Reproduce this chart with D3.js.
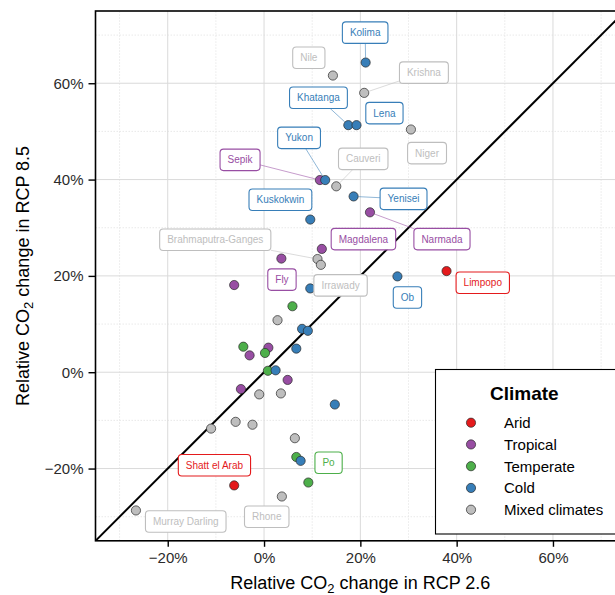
<!DOCTYPE html>
<html><head><meta charset="utf-8">
<script src="https://cdn.jsdelivr.net/npm/d3@7"></script>
<style>body{margin:0;background:#fff}svg{display:block}text{font-family:"Liberation Sans",Arial,Helvetica,sans-serif}</style>
</head><body><svg id="c" width="615" height="595"></svg>
<script>
// ---- data ----
const rivers = ["Limpopo","Shatt el Arab",
  "Sepik","Narmada","Magdalena","Fly","","","","","",
  "","","","","","Po",
  "Kolima","Khatanga","Lena","Yukon","Yenisei","Kuskokwin","","Ob","","","","","","",
  "Nile","Krishna","Niger","Cauveri","Brahmaputra-Ganges","Irrawady","","","","","","","","Rhone","Murray Darling"];
const rcp26 = [0.379,-0.062,
  0.116,0.220,0.120,0.036,-0.062,0.009,-0.030,0.049,-0.048,
  0.059,-0.043,0.002,0.008,0.067,0.092,
  0.211,0.175,0.192,0.127,0.186,0.096,0.096,0.277,0.079,0.091,0.067,0.024,0.147,0.076,
  0.143,0.208,0.305,0.150,0.111,0.118,0.028,-0.010,0.035,-0.059,-0.024,-0.110,0.064,0.037,-0.266];
const rcp85 = [0.210,-0.235,
  0.399,0.332,0.256,0.236,0.181,0.051,0.035,-0.016,-0.035,
  0.137,0.053,0.040,0.003,-0.176,-0.229,
  0.643,0.513,0.513,0.399,0.365,0.317,0.174,0.199,0.090,0.086,0.049,0.004,-0.067,-0.184,
  0.616,0.580,0.504,0.386,0.235,0.223,0.108,-0.046,-0.044,-0.103,-0.109,-0.117,-0.137,-0.258,-0.287];
const climate = ["Arid","Arid",
  "Tropical","Tropical","Tropical","Tropical","Tropical","Tropical","Tropical","Tropical","Tropical",
  "Temperate","Temperate","Temperate","Temperate","Temperate","Temperate",
  "Cold","Cold","Cold","Cold","Cold","Cold","Cold","Cold","Cold","Cold","Cold","Cold","Cold","Cold",
  "Mixed climates","Mixed climates","Mixed climates","Mixed climates","Mixed climates","Mixed climates","Mixed climates","Mixed climates","Mixed climates","Mixed climates","Mixed climates","Mixed climates","Mixed climates","Mixed climates","Mixed climates"];
const climates = ["Arid","Tropical","Temperate","Cold","Mixed climates"];
const xTicks = [-0.2,0,0.2,0.4,0.6];
const yTicks = [-0.2,0,0.2,0.4,0.6];
const minorTicks = [-0.3,-0.1,0.1,0.3,0.5,0.7];
// repelled label placement (data units), and whether a connector segment is drawn
const labelNames = ["Kolima","Nile","Krishna","Khatanga","Lena","Niger","Yukon","Cauveri","Sepik","Kuskokwin","Yenisei",
  "Brahmaputra-Ganges","Magdalena","Narmada","Fly","Irrawady","Ob","Limpopo","Po","Shatt el Arab","Murray Darling","Rhone"];
const labelX = [0.210,0.093,0.332,0.113,0.250,0.3385,0.0727,0.206,-0.0498,0.034,0.2897,
  -0.1013,0.2064,0.3695,0.0372,0.1589,0.2978,0.4542,0.134,-0.103,-0.1626,0.0056];
const labelY = [0.705,0.653,0.622,0.570,0.538,0.455,0.4866,0.443,0.441,0.358,0.360,
  0.275,0.2764,0.2764,0.1923,0.1803,0.1553,0.1859,-0.188,-0.193,-0.310,-0.300];
const labelSegment = [true,false,true,true,false,false,true,true,true,false,true,
  true,false,true,false,false,false,false,false,false,false,false];

// ---- styles ----
const colorScale = d3.scaleOrdinal().domain(climates)
  .range(["#E41A1C","#984EA3","#4DAF4A","#377EB8","#BEBEBE"]);
const svg = d3.select("#c");
const x = d3.scaleLinear().domain([-0.35,0.75]).range([95.5,625.2]);
const y = d3.scaleLinear().domain([-0.35,0.75]).range([540.8,11]);
const pct = d => (d<0?"\u2212":"") + Math.round(Math.abs(d)*100) + "%";

svg.append("rect").attr("x",0).attr("y",0).attr("width",615).attr("height",595).attr("fill","#fff");

const defs = svg.append("defs");
defs.append("clipPath").attr("id","panel").append("rect")
  .attr("x",x(-0.35)).attr("y",y(0.75)).attr("width",x(0.75)-x(-0.35)).attr("height",y(-0.35)-y(0.75));

const plot = svg.append("g").attr("clip-path","url(#panel)");
// minor grid
plot.selectAll(".mv").data(minorTicks).join("line")
  .attr("x1",d=>x(d)).attr("x2",d=>x(d)).attr("y1",y(-0.35)).attr("y2",y(0.75))
  .attr("stroke","#e3e3e3").attr("stroke-width",0.8).attr("stroke-dasharray","1.5,1.5");
plot.selectAll(".mh").data(minorTicks).join("line")
  .attr("y1",d=>y(d)).attr("y2",d=>y(d)).attr("x1",x(-0.35)).attr("x2",x(0.75))
  .attr("stroke","#e3e3e3").attr("stroke-width",0.8).attr("stroke-dasharray","1.5,1.5");
// major grid
plot.selectAll(".gv").data(xTicks).join("line")
  .attr("x1",d=>x(d)).attr("x2",d=>x(d)).attr("y1",y(-0.35)).attr("y2",y(0.75))
  .attr("stroke","#dadada").attr("stroke-width",1);
plot.selectAll(".gh").data(yTicks).join("line")
  .attr("y1",d=>y(d)).attr("y2",d=>y(d)).attr("x1",x(-0.35)).attr("x2",x(0.75))
  .attr("stroke","#dadada").attr("stroke-width",1);
// 1:1 line
plot.append("line").attr("x1",x(-0.35)).attr("y1",y(-0.35)).attr("x2",x(0.75)).attr("y2",y(0.75))
  .attr("stroke","#000").attr("stroke-width",2);

// points
const pts = rivers.map((r,i)=>({name:r,x:rcp26[i],y:rcp85[i],c:climate[i]}));
plot.selectAll(".pt").data(pts).join("circle")
  .attr("cx",d=>x(d.x)).attr("cy",d=>y(d.y)).attr("r",4.6)
  .attr("fill",d=>colorScale(d.c)).attr("stroke","#2a2a2a").attr("stroke-width",0.7);

// labels
const lbls = labelNames.map((n,i)=>{
  const p = pts.find(q=>q.name===n);
  return {name:n,lx:labelX[i],ly:labelY[i],seg:labelSegment[i],p:p,col:colorScale(p.c)};
});
const lg = plot.append("g");
lbls.forEach(l=>{
  const g = lg.append("g");
  const cx = x(l.lx), cy = y(l.ly);
  const t = g.append("text").attr("x",cx).attr("y",cy+3.6).attr("text-anchor","middle")
    .attr("font-size",10).attr("fill",l.col).text(l.name);
  const w = t.node().getComputedTextLength()+15, h = 21.5;
  if(l.seg){
    const px = x(l.p.x), py = y(l.p.y);
    const dx = px-cx, dy = py-cy;
    const s = Math.min(Math.abs((w/2)/ (dx||1e-9)), Math.abs((h/2)/(dy||1e-9)));
    const sx = cx+dx*s, sy = cy+dy*s;
    const len = Math.hypot(px-sx,py-sy);
    const ex = px-(px-sx)/len*4.6, ey = py-(py-sy)/len*4.6;
    g.insert("line","text").attr("x1",sx).attr("y1",sy).attr("x2",ex).attr("y2",ey)
      .attr("stroke",l.col).attr("stroke-opacity",0.7).attr("stroke-width",0.8);
  }
  g.insert("rect","text").attr("x",cx-w/2).attr("y",cy-h/2).attr("width",w).attr("height",h)
    .attr("rx",3.5).attr("fill","#fff").attr("stroke",l.col).attr("stroke-width",1.1);
});

// panel border
svg.append("rect").attr("x",x(-0.35)).attr("y",y(0.75)).attr("width",x(0.75)-x(-0.35)).attr("height",y(-0.35)-y(0.75))
  .attr("fill","none").attr("stroke","#000").attr("stroke-width",1.6);

// axes
const ax = svg.append("g").attr("transform",`translate(0,${y(-0.35)})`)
  .call(d3.axisBottom(x).tickValues(xTicks).tickFormat(pct).tickSize(6).tickPadding(6));
const ay = svg.append("g").attr("transform",`translate(${x(-0.35)},0)`)
  .call(d3.axisLeft(y).tickValues(yTicks).tickFormat(pct).tickSize(7).tickPadding(5));
[ax,ay].forEach(a=>{
  a.select(".domain").remove();
  a.selectAll(".tick line").attr("stroke","#000").attr("stroke-width",1.4);
  a.selectAll(".tick text").attr("font-size",15).attr("fill","#2b2b2b")
    .attr("font-family","\"Liberation Sans\",Arial,sans-serif");
});

// axis titles
const xt = svg.append("text").attr("x",(x(-0.35)+x(0.75))/2).attr("y",589).attr("text-anchor","middle")
  .attr("font-size",18).attr("fill","#000");
xt.append("tspan").text("Relative CO");
xt.append("tspan").attr("font-size",13).attr("dy",4).text("2");
xt.append("tspan").attr("dy",-4).text(" change in RCP 2.6");
const yt = svg.append("text").attr("transform",`translate(28.5,${(y(-0.35)+y(0.75))/2}) rotate(-90)`)
  .attr("text-anchor","middle").attr("font-size",18).attr("fill","#000");
yt.append("tspan").text("Relative CO");
yt.append("tspan").attr("font-size",13).attr("dy",4).text("2");
yt.append("tspan").attr("dy",-4).text(" change in RCP 8.5");

// legend
const leg = svg.append("g");
leg.append("rect").attr("x",435.5).attr("y",369.5).attr("width",300).attr("height",164.5)
  .attr("fill","#fff").attr("stroke","#000").attr("stroke-width",1.1);
leg.append("text").attr("x",490).attr("y",399.5).attr("font-size",19).attr("font-weight","bold")
  .attr("fill","#000").text("Climate");
climates.forEach((c,i)=>{
  const cy = 422.7 + i*21.75;
  leg.append("circle").attr("cx",471).attr("cy",cy).attr("r",4.6)
    .attr("fill",colorScale(c)).attr("stroke","#2a2a2a").attr("stroke-width",0.7);
  leg.append("text").attr("x",504).attr("y",cy+5.3).attr("font-size",15).attr("fill","#000").text(c);
});
</script></body></html>
